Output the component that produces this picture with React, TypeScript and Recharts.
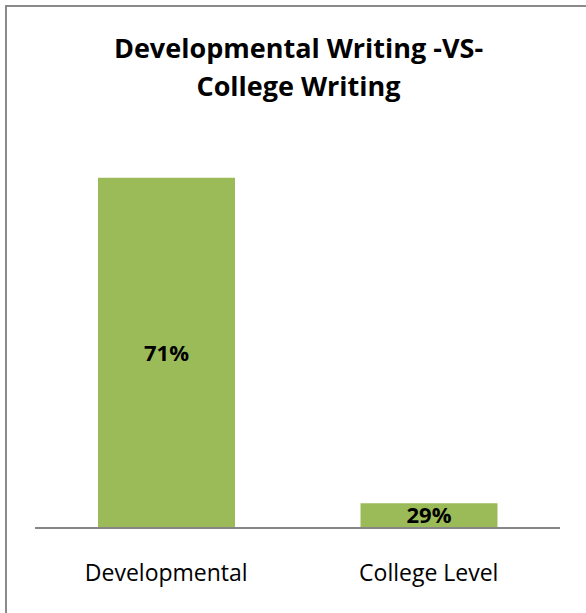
import { Bar, BarChart, LabelList, XAxis, YAxis } from "recharts"

// values
const categories = ["Developmental", "College Level"]
const shares = [71, 29]

const chartData = categories.map((name, i) => ({ name, share: shares[i] }))

const font = "'Open Sans', sans-serif"

export default function App() {
  return (
    <div
      style={{
        position: "absolute",
        left: 0,
        top: 0,
        width: 586,
        height: 613,
        overflow: "hidden",
        background: "#ffffff",
        fontFamily: font,
      }}
    >
      {/* chart frame, cropped on the right and bottom like the reference */}
      <div
        style={{
          position: "absolute",
          left: 5,
          top: 5,
          width: 700,
          height: 700,
          borderLeft: "2px solid #8a8a8a",
          borderTop: "2px solid #8a8a8a",
        }}
      />
      <div
        style={{
          position: "absolute",
          left: 0,
          top: 29,
          width: 597,
          textAlign: "center",
          fontWeight: 700,
          fontSize: 27,
          lineHeight: "38px",
          color: "#000",
        }}
      >
        Developmental Writing -VS-
        <br />
        College Writing
      </div>
      <BarChart
        width={586}
        height={613}
        data={chartData}
        margin={{ top: 139, right: 26, bottom: 25, left: 35 }}
        barCategoryGap="24%"
        style={{ position: "absolute", left: 0, top: 0 }}
      >
        <XAxis
          dataKey="name"
          axisLine={{ stroke: "#868686", strokeWidth: 2 }}
          tickLine={false}
          height={60}
          tick={{ fill: "#000", fontSize: 23, fontFamily: font }}
          dy={29}
        />
        <YAxis hide domain={[25.8, 76]} allowDataOverflow />
        <Bar dataKey="share" fill="#9bbb59" isAnimationActive={false}>
          <LabelList
            dataKey="share"
            position="center"
            formatter={(v: any) => `${v}%`}
            style={{ fill: "#000", fontSize: 22, fontWeight: 700, fontFamily: font }}
          />
        </Bar>
      </BarChart>
    </div>
  )
}
